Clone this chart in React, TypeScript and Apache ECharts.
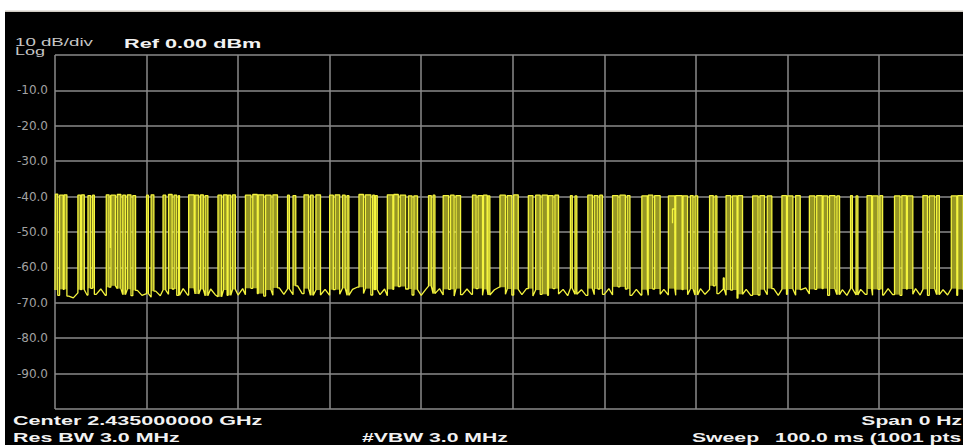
import React, { useEffect, useRef } from "react";
import * as echarts from "echarts";

// ---- data ----
const sweepMs = [0, 100];
const refLevelDbm = [0, -100];
const yTickValues = [-10, -20, -30, -40, -50, -60, -70, -80, -90];

const floorStepMs = 0.5;
const floorDbm = [
  -66.4, -67.9, -66.2, -68.1, -68.6, -67.2, -66.3, -67.8, -65.9, -67.6,
  -66.1, -67.9, -65.6, -65.2, -66.0, -67.7, -66.2, -68.0, -66.5, -67.9,
  -67.4, -68.4, -66.7, -68.0, -66.4, -67.6, -66.1, -67.9, -66.0, -67.8,
  -65.9, -67.5, -66.2, -68.0, -66.1, -67.7, -68.3, -66.4, -67.9, -66.2,
  -67.8, -66.0, -67.7, -65.9, -67.4, -66.3, -68.1, -66.4, -67.9, -65.8,
  -67.6, -66.1, -67.7, -65.2, -67.4, -66.0, -67.9, -66.4, -67.8, -66.2,
  -67.9, -66.3, -67.6, -65.9, -67.9, -66.2, -65.6, -67.4, -66.0, -67.8,
  -66.3, -67.7, -66.1, -68.0, -66.2, -65.4, -67.5, -66.1, -67.8, -66.3,
  -67.9, -66.2, -65.3, -67.4, -66.0, -67.8, -66.2, -68.1, -66.0, -67.7,
  -66.1, -67.6, -66.0, -67.9, -66.2, -67.8, -66.3, -65.6, -67.6, -66.1,
  -67.8, -66.2, -67.7, -66.0, -68.1, -66.4, -67.6, -66.1, -67.9, -66.0,
  -67.5, -66.2, -68.0, -65.9, -67.6, -66.3, -67.9, -66.0, -67.7, -66.1,
  -67.6, -66.0, -67.8, -65.5, -67.5, -66.1, -67.9, -66.2, -67.8, -66.3,
  -67.9, -66.1, -67.6, -66.2, -67.8, -66.0, -67.9, -66.3, -67.7, -66.1,
  -67.8, -66.0, -67.6, -66.2, -65.2, -67.4, -66.1, -67.9, -66.4, -68.7,
  -67.6, -66.2, -67.9, -66.1, -67.8, -66.3, -67.7, -66.0, -67.9, -66.2,
  -67.6, -66.1, -67.9, -66.3, -65.8, -67.5, -66.2, -67.8, -66.0, -67.9,
  -66.1, -67.7, -66.3, -67.9, -66.0, -67.8, -66.2, -67.6, -66.1, -67.9,
  -66.2, -67.8, -66.0, -67.7, -66.3, -67.9, -66.1, -67.6, -66.0, -67.8,
  -66.2, -67.9, -66.1, -67.7, -66.3, -67.8, -66.0, -67.9, -66.2, -67.6,
  -66.8,
];

// [start ms, end ms, top dBm]
const pulses: number[][] = [
  [0.05, 0.3, -39.3], [0.5, 0.9, -39.6], [1.0, 1.3, -39.5],
  [2.5, 2.8, -39.6], [2.9, 3.2, -39.5], [3.6, 3.9, -39.7], [4.1, 4.3, -39.6],
  [5.6, 5.9, -39.5], [6.1, 6.6, -39.6], [6.8, 7.2, -39.4], [7.4, 7.7, -39.6], [7.9, 8.3, -39.5], [8.5, 8.8, -39.7],
  [10.0, 10.2, -39.6], [10.5, 10.8, -39.5],
  [11.8, 12.1, -39.6], [12.4, 12.8, -39.4], [13.0, 13.3, -39.6], [13.5, 13.6, -39.7],
  [14.6, 15.2, -39.5], [15.3, 15.7, -39.6], [15.9, 16.2, -39.5], [16.4, 16.7, -39.7],
  [17.8, 18.2, -39.6], [18.4, 18.8, -39.5], [18.9, 19.2, -39.6], [19.4, 19.7, -39.5],
  [20.8, 21.4, -39.6], [21.6, 22.1, -39.4], [22.2, 22.8, -39.5], [23.0, 23.6, -39.6], [23.8, 24.3, -39.5],
  [25.4, 25.6, -39.6], [26.0, 26.3, -39.7],
  [27.2, 27.7, -39.5], [27.9, 28.2, -39.6], [28.5, 29.0, -39.5],
  [30.0, 30.4, -39.6], [30.6, 31.1, -39.5], [31.4, 31.7, -39.6], [31.9, 32.1, -39.7],
  [33.2, 33.7, -39.4], [33.9, 34.5, -39.5], [34.7, 34.9, -39.6], [35.0, 35.2, -39.7],
  [36.3, 36.9, -39.5], [37.0, 37.5, -39.4], [37.7, 38.3, -39.6], [38.6, 39.0, -39.8], [39.2, 39.6, -39.8],
  [40.8, 41.1, -39.7], [41.3, 41.5, -39.6],
  [42.4, 43.0, -39.7], [43.2, 43.6, -39.6], [43.8, 44.3, -39.7],
  [45.6, 46.0, -39.6], [46.2, 46.7, -39.7], [46.8, 47.2, -39.6], [47.3, 47.5, -39.8],
  [48.6, 49.2, -39.6], [49.4, 49.9, -39.7], [50.1, 50.6, -39.5],
  [51.7, 52.2, -39.7], [52.5, 53.0, -39.6], [53.2, 53.8, -39.6], [53.9, 54.4, -39.7], [54.6, 55.0, -39.6],
  [56.3, 56.5, -39.7], [56.8, 57.0, -39.8],
  [58.2, 58.7, -39.6], [58.9, 59.3, -39.7], [59.5, 59.8, -39.6],
  [60.9, 61.5, -39.7], [61.7, 62.3, -39.6], [62.5, 62.8, -39.7],
  [64.1, 64.7, -39.8], [64.8, 65.3, -39.6], [65.5, 66.1, -39.7],
  [67.0, 67.7, -39.8], [67.8, 68.5, -39.7], [68.6, 69.1, -39.8], [69.4, 69.7, -39.7], [69.9, 70.2, -39.8],
  [71.5, 71.9, -39.7], [72.1, 72.3, -39.8],
  [73.0, 73.1, -63.0],
  [73.3, 73.8, -39.7], [74.0, 74.5, -39.8], [74.6, 75.1, -39.7],
  [76.2, 76.8, -39.8], [77.0, 77.5, -39.7], [77.8, 78.3, -39.8],
  [79.4, 79.9, -39.7], [80.0, 80.6, -39.8], [80.9, 81.4, -39.7],
  [82.4, 83.0, -39.8], [83.2, 83.8, -39.7], [83.9, 84.4, -39.8], [84.6, 85.2, -39.7], [85.4, 85.7, -39.8],
  [86.9, 87.1, -39.7], [87.5, 87.7, -39.8],
  [88.7, 89.2, -39.7], [89.3, 89.9, -39.8], [90.1, 90.4, -39.7],
  [91.7, 92.3, -39.8], [92.5, 93.0, -39.7], [93.1, 93.7, -39.8],
  [94.8, 95.3, -39.7], [95.5, 96.1, -39.8], [96.3, 96.6, -39.7],
  [97.9, 98.5, -39.8], [98.6, 99.2, -39.7],
];

// small trace details inside bursts: [ms, dBm] polylines
const traceDetails: number[][][] = [
  [[67.75, -43.5], [67.45, -43.5], [67.45, -47.5]],
  [[6.05, -39.6], [6.05, -54.5]],
];

const scaleText = "10 dB/div";
const scaleTypeText = "Log";
const refText = "Ref 0.00 dBm";
const centerText = "Center 2.435000000 GHz";
const rbwText = "Res BW 3.0 MHz";
const vbwText = "#VBW 3.0 MHz";
const spanText = "Span 0 Hz";
const sweepLabel = "Sweep";
const sweepText = "100.0 ms (1001 pts";

// ---- helpers ----
function floorAt(ms: number) {
  const i = Math.min(floorDbm.length - 1, Math.max(0, Math.round(ms / floorStepMs)));
  return floorDbm[i];
}

function buildTrace() {
  const pts: number[][] = [];
  let pi = 0;
  let lastEnd = -Infinity;
  for (let i = 0; i < floorDbm.length; i++) {
    const t = i * floorStepMs;
    while (pi < pulses.length && pulses[pi][0] <= t) {
      const [s, e, top] = pulses[pi];
      pts.push([s, floorAt(s)], [s, top], [e, top], [e, floorAt(e)]);
      lastEnd = e;
      pi++;
    }
    if (t <= lastEnd) continue;
    pts.push([t, floorDbm[i]]);
  }
  return pts;
}

const YELLOW = "#f4f43e";
const OLIVE = "#969624";

export default function App() {
  const ref = useRef<HTMLDivElement>(null);

  useEffect(() => {
    if (!ref.current) return;
    const chart = echarts.init(ref.current, undefined, { renderer: "svg" });
    const trace = buildTrace();
    const fillData = pulses.map((p) => [p[0], p[1], p[2], Math.max(floorAt(p[0]), floorAt(p[1]))]);

    const boldFont = 'bold 13px "Liberation Sans", Arial, sans-serif';
    const normFont = '11px "Liberation Sans", Arial, sans-serif';
    const txt = (text: string, x: number, y: number, font: string, fill: string, sx: number, align = "left") => ({
      type: "text",
      x,
      y,
      scaleX: sx,
      silent: true,
      style: {
        text,
        font,
        fill,
        align,
        verticalAlign: "middle",
        textAlign: align,
        textVerticalAlign: "middle",
      },
      z: 100,
    });

    chart.setOption({
      animation: false,
      backgroundColor: "#000000",
      grid: { left: 55, top: 55, width: 915.5, height: 354, outerBoundsMode: "none", containLabel: false },
      xAxis: {
        type: "value",
        min: sweepMs[0],
        max: sweepMs[1],
        interval: 10,
        axisLabel: { show: false },
        axisTick: { show: false },
        axisLine: { show: false },
        splitLine: { show: true, lineStyle: { color: "#8a8a8a", width: 1.5 } },
      },
      yAxis: {
        type: "value",
        min: refLevelDbm[1],
        max: refLevelDbm[0],
        interval: 10,
        axisTick: { show: false },
        axisLine: { show: false },
        axisLabel: {
          color: "#a2a2a2",
          fontFamily: "DejaVu Sans",
          fontSize: 12,
          margin: 7,
          formatter: (v: number) => (yTickValues.includes(v) ? v.toFixed(1) : ""),
        },
        splitLine: { show: true, lineStyle: { color: "#8a8a8a", width: 1.5 } },
      },
      series: [
        {
          type: "custom",
          z: 2,
          silent: true,
          clip: true,
          encode: { x: [0, 1], y: [2, 3] },
          data: fillData,
          renderItem: (params: any, api: any) => {
            const p1 = api.coord([api.value(0), api.value(2)]);
            const p2 = api.coord([api.value(1), api.value(3)]);
            return {
              type: "rect",
              shape: { x: p1[0], y: p1[1], width: p2[0] - p1[0], height: p2[1] - p1[1] },
              style: { fill: OLIVE },
            };
          },
        },
        {
          type: "line",
          z: 3,
          silent: true,
          showSymbol: false,
          data: trace,
          lineStyle: { color: YELLOW, width: 1.3 },
          clip: true,
        },
        ...traceDetails.map((seg) => ({
          type: "line",
          z: 4,
          silent: true,
          showSymbol: false,
          data: seg,
          lineStyle: { color: YELLOW, width: 1.3 },
        })),
      ],
      graphic: [
        { type: "rect", shape: { x: 0, y: 0, width: 963, height: 11 }, style: { fill: "#ffffff" }, z: 90, silent: true },
        { type: "rect", shape: { x: 0, y: 10.5, width: 963, height: 1.5 }, style: { fill: "#cfcac2" }, z: 90, silent: true },
        { type: "rect", shape: { x: 0, y: 0, width: 5, height: 445 }, style: { fill: "#ffffff" }, z: 91, silent: true },
        txt(scaleText, 15, 42, normFont, "#c6c6c6", 1.7),
        txt(scaleTypeText, 15, 51, normFont, "#c6c6c6", 1.64),
        txt(refText, 124, 43.5, boldFont, "#f2f2f2", 1.67),
        txt(centerText, 13, 421, boldFont, "#f2f2f2", 1.66),
        txt(rbwText, 13, 437.5, boldFont, "#f2f2f2", 1.65),
        txt(vbwText, 362, 437.5, boldFont, "#f2f2f2", 1.63),
        txt(spanText, 962, 421, boldFont, "#f2f2f2", 1.62, "right"),
        txt(sweepLabel, 692, 437.5, boldFont, "#f2f2f2", 1.63),
        txt(sweepText, 775, 437.5, boldFont, "#f2f2f2", 1.62),
      ],
    });
    return () => chart.dispose();
  }, []);

  return (
    <div
      ref={ref}
      style={{ position: "fixed", left: 0, top: 0, width: 963, height: 445 }}
    />
  );
}
